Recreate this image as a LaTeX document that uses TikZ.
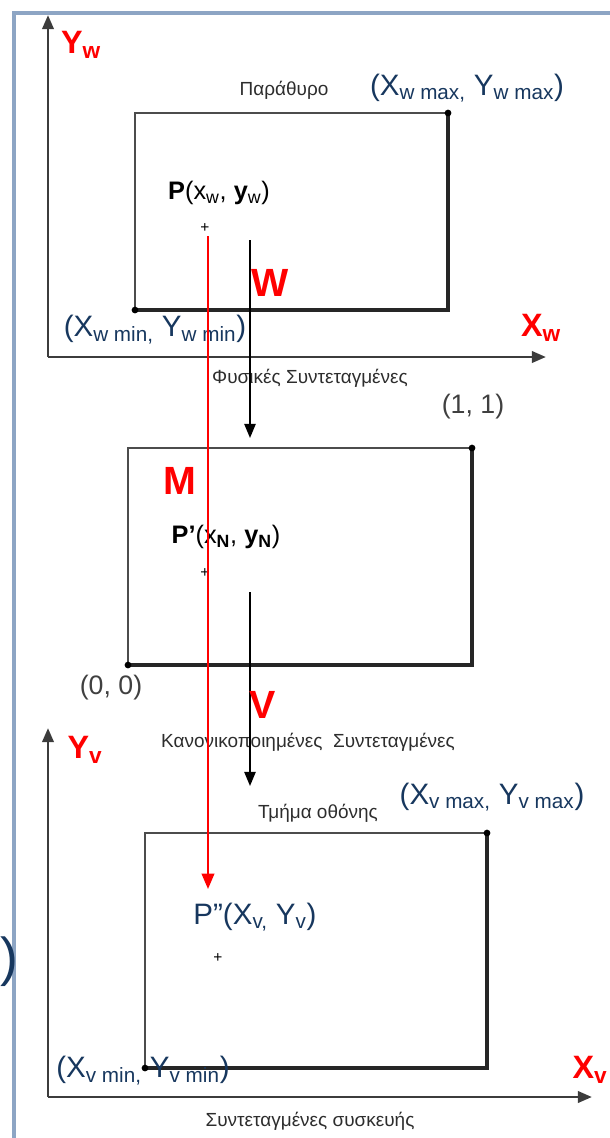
\documentclass[tikz,border=0pt]{standalone}
\usepackage{fontspec}
\setmainfont{Liberation Sans}
\usetikzlibrary{arrows.meta,positioning}
\definecolor{labelblue}{RGB}{23,55,94}
\definecolor{framegray}{RGB}{141,165,196}
\definecolor{axisgray}{RGB}{60,60,60}

\begin{document}
\begin{tikzpicture}[x=0.025cm,y=-0.025cm,
    axis/.style={axisgray,line width=2pt,-{Triangle[length=10pt,width=8pt]}},
    edge/.style={gray!60!black,line width=1.3pt},
    shadowedge/.style={black!85,line width=2.4pt,line cap=rect},
    maparrow/.style={black,line width=1.2pt,-{Triangle[length=10pt,width=8pt]}},
    redarrow/.style={red,line width=1.4pt,-{Triangle[length=11pt,width=9pt]}},
    bluelbl/.style={labelblue,inner sep=0pt,font=\fontsize{21}{24}\selectfont},
    redlbl/.style={red,inner sep=0pt,font=\fontsize{23}{26}\selectfont\bfseries},
    maplbl/.style={red,inner sep=0pt,font=\fontsize{28}{32}\selectfont\bfseries},
    greylbl/.style={gray!35!black,inner sep=0pt,font=\fontsize{13.5}{15}\selectfont},
    cornerlbl/.style={gray!50!black,inner sep=0pt,font=\fontsize{19}{22}\selectfont},
    plbl/.style={black,inner sep=0pt,font=\fontsize{18}{21}\selectfont},
    plusmark/.style={inner sep=0pt,font=\fontsize{11}{12}\selectfont}
  ]
  \useasboundingbox (0,0) rectangle (610,1138);

  % frame of the slide
  \draw[framegray,line width=2.6pt] (14,1142) -- (14,13) -- (614,13);
  \node[labelblue,anchor=east,inner sep=0pt,font=\fontsize{38}{40}\selectfont] (cut) at (19,962) {)};

  % world coordinates
  \coordinate (wo) at (48,357);
  \draw[axis] (wo) -- (48,15);
  \draw[axis] (wo) -- (546,357);
  \node[redlbl] (yw) at (81,45) {Y\textsubscript{w}};
  \node[redlbl] (xw) at (541,328) {X\textsubscript{w}};
  \node[greylbl] (phys) at (310,378) {Φυσικές Συντεταγμένες};

  \coordinate (win-sw) at (135,310);
  \coordinate (win-ne) at (448,113);
  \draw[edge] (win-sw) rectangle (win-ne);
  \draw[shadowedge] (win-ne) -- (win-ne |- win-sw) -- (win-sw);
  \fill (win-ne) circle (2.4pt) (win-sw) circle (2.4pt);
  \node[greylbl] (window) at (284,90) {Παράθυρο};
  \node[bluelbl] (wmax) at (467,88) {(X\textsubscript{w max,} Y\textsubscript{w max})};
  \node[bluelbl] (wmin) at (155,330) {(X\textsubscript{w min,} Y\textsubscript{w min})};
  \node[plbl] (pw) at (219,193) {\textbf{P}(x\textsubscript{w}, \textbf{y}\textsubscript{w})};
  \node[plusmark] (pwmark) at (205,228) {+};

  % normalized coordinates
  \coordinate (nrm-sw) at (128,665);
  \coordinate (nrm-ne) at (472,448);
  \draw[edge] (nrm-sw) rectangle (nrm-ne);
  \draw[shadowedge] (nrm-ne) -- (nrm-ne |- nrm-sw) -- (nrm-sw);
  \fill (nrm-ne) circle (2.4pt) (nrm-sw) circle (2.4pt);
  \node[cornerlbl] (one) at (473,407) {(1, 1)};
  \node[cornerlbl] (zero) at (111,688) {(0, 0)};
  \node[plbl] (pn) at (226,537) {\textbf{P’}(x\textsubscript{\textbf{N}}, \textbf{y}\textsubscript{\textbf{N}})};
  \node[plusmark] (pnmark) at (205,573) {+};
  \node[greylbl] (norm) at (308,742) {Κανονικοποιημένες\ \ Συντεταγμένες};

  % device coordinates
  \coordinate (vo) at (48,1097);
  \draw[axis] (vo) -- (48,728);
  \draw[axis] (vo) -- (592,1097);
  \node[redlbl] (yv) at (85,750) {Y\textsubscript{v}};
  \node[redlbl] (xv) at (590,1070) {X\textsubscript{v}};
  \node[greylbl] (dev) at (310,1121) {Συντεταγμένες συσκευής};

  \coordinate (vp-sw) at (145,1068);
  \coordinate (vp-ne) at (487,833);
  \draw[edge] (vp-sw) rectangle (vp-ne);
  \draw[shadowedge] (vp-ne) -- (vp-ne |- vp-sw) -- (vp-sw);
  \fill (vp-ne) circle (2.4pt) (vp-sw) circle (2.4pt);
  \node[greylbl] (screen) at (318,813) {Τμήμα οθόνης};
  \node[bluelbl] (vmax) at (492,797) {(X\textsubscript{v max,} Y\textsubscript{v max})};
  \node[bluelbl] (vmin) at (143,1071) {(X\textsubscript{v min,} Y\textsubscript{v min})};
  \node[bluelbl] (pv) at (255,917) {P”(X\textsubscript{v,} Y\textsubscript{v})};
  \node[plusmark] (pvmark) at (218,958) {+};

  % transformations
  \coordinate (w-from) at (250,240);
  \coordinate (w-to) at (250,438);
  \draw[maparrow] (w-from) -- (w-to);
  \node[maplbl] (wlbl) at (270,283) {W};
  \coordinate (v-from) at (250,592);
  \coordinate (v-to) at (250,786);
  \draw[maparrow] (v-from) -- (v-to);
  \node[maplbl] (vlbl) at (263,705) {V};
  \node[maplbl] (mlbl) at (180,481) {M};
  \coordinate (m-from) at (208,236);
  \coordinate (m-to) at (208,889);
  \draw[redarrow] (m-from) -- (m-to);
\end{tikzpicture}
\end{document}
